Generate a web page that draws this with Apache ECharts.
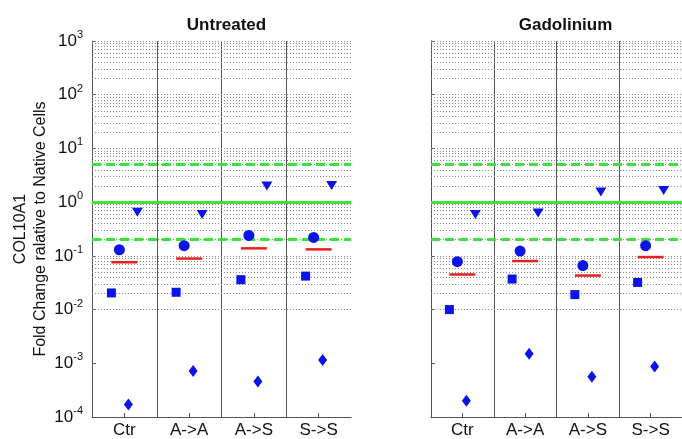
<!DOCTYPE html>
<html><head><meta charset="utf-8">
<script src="https://cdn.jsdelivr.net/npm/echarts@6/dist/echarts.min.js"></script>
<style>html,body{margin:0;padding:0;background:#fff}#c{width:682px;height:439px}</style>
</head><body><div id="c"></div>
<script>
const categories = ['Ctr', 'A->A', 'A->S', 'S->S'];
const panelTitles = ['Untreated', 'Gadolinium'];

const untreatedTriangle = [0.65, 0.59, 2.0, 2.05];
const untreatedCircle = [0.13, 0.155, 0.24, 0.22];
const untreatedMean = [0.076, 0.089, 0.138, 0.132];
const untreatedSquare = [0.0204, 0.021, 0.036, 0.042];
const untreatedDiamond = [1.7e-4, 7.2e-4, 4.6e-4, 1.15e-3];

const gadTriangle = [0.59, 0.63, 1.55, 1.64];
const gadCircle = [0.078, 0.123, 0.066, 0.155];
const gadMean = [0.045, 0.080, 0.043, 0.095];
const gadSquare = [0.0100, 0.037, 0.019, 0.032];
const gadDiamond = [2.0e-4, 1.5e-3, 5.6e-4, 8.7e-4];

const refSolid = [1];
const refDashed = [0.2, 5];

const BLUE = '#0a14e8';
const FONT = 'Liberation Sans, Arial, sans-serif';

// log grid lines (1..9 x 10^k)
const gridVals = [];
for (let k = -4; k <= 2; k++) {
  for (let m = 1; m <= 9; m++) gridVals.push(m * Math.pow(10, k));
}
gridVals.push(1000);

const panels = [
  { tri: untreatedTriangle, cir: untreatedCircle, mean: untreatedMean, sq: untreatedSquare, dia: untreatedDiamond },
  { tri: gadTriangle, cir: gadCircle, mean: gadMean, sq: gadSquare, dia: gadDiamond }
];

const grids = [
  { left: 92, top: 41, width: 259, height: 377 },
  { left: 431, top: 41, width: 259, height: 377 }
];

const catAxes = grids.map((g, i) => ({
  type: 'category', gridIndex: i, data: categories,
  boundaryGap: true,
  axisLine: { show: true, lineStyle: { color: '#555', width: 1 } },
  axisTick: { show: true, inside: true, alignWithLabel: true, length: 4, lineStyle: { color: '#555' } },
  axisLabel: { color: '#111', fontSize: 17, fontFamily: FONT, margin: 5 },
  splitLine: { show: false }
}));
// divider lines between groups (no line at the right edge)
const dividerAxes = grids.map((g, i) => ({
  type: 'value', gridIndex: i, position: 'top', min: 0, max: categories.length, interval: 1,
  axisLine: { show: false }, axisTick: { show: false }, axisLabel: { show: false },
  splitLine: { show: true, showMinLine: false, showMaxLine: false, lineStyle: { color: '#555', width: 1 } }
}));

const yAxes = grids.map((g, i) => ({
  type: 'log', logBase: 10, gridIndex: i, min: 1e-4, max: 1e3, interval: 1,
  axisLine: { show: true, lineStyle: { color: '#555', width: 1 } },
  axisTick: { show: true, inside: true, length: 4, lineStyle: { color: '#555' } },
  splitLine: { show: false },
  axisLabel: i === 0 ? {
    show: true, margin: 9,
    formatter: v => '{b|10}{e|' + Math.round(Math.log10(v)) + '}',
    rich: {
      b: { fontSize: 17, color: '#111', fontFamily: FONT },
      e: { fontSize: 11, color: '#111', fontFamily: FONT, padding: [0, 0, 12, 0] }
    }
  } : { show: false },
  name: i === 0 ? 'COL10A1\nFold Change ralative to Native Cells' : '',
  nameLocation: 'middle', nameRotate: 90, nameGap: 41,
  nameTextStyle: { fontSize: 16, color: '#111', fontFamily: FONT, lineHeight: 20 }
}));

const series = [];
panels.forEach((p, i) => {
  series.push({
    type: 'scatter', xAxisIndex: i, yAxisIndex: i, data: [], silent: true, z: 1,
    markLine: {
      silent: true, symbol: 'none', animation: false,
      label: { show: false },
      lineStyle: { color: '#8a8a8a', width: 1, type: [1, 2] },
      data: gridVals.map(v => ({ yAxis: v }))
    }
  });
  series.push({
    type: 'scatter', xAxisIndex: i, yAxisIndex: i, data: [], silent: true, z: 2,
    markLine: {
      silent: true, symbol: 'none', animation: false,
      label: { show: false },
      data: refSolid.map(v => ({ yAxis: v, lineStyle: { color: '#3ae43a', width: 3, type: 'solid' } }))
        .concat(refDashed.map(v => ({ yAxis: v, lineStyle: { color: '#3ae43a', width: 3, type: [9, 5] } })))
    }
  });
  const mk = (data, symbol, size, offset, color, extra) => Object.assign({
    type: 'scatter', xAxisIndex: i, yAxisIndex: i, data: data, symbol: symbol,
    symbolSize: size, symbolOffset: offset, itemStyle: { color: color, opacity: 1 }, z: 5, animation: false
  }, extra || {});
  series.push(mk(p.mean, 'rect', [26, 2.5], [0, 0], '#e8211e'));
  series.push(mk(p.sq, 'rect', [9, 9], [-13, 0], BLUE));
  series.push(mk(p.cir, 'circle', 11, [-5, 0], BLUE));
  series.push(mk(p.dia, 'diamond', [9, 12], [4, 0], BLUE));
  series.push(mk(p.tri, 'triangle', [11, 9], [13, 0], BLUE, { symbolRotate: 180 }));
});

const chart = echarts.init(document.getElementById('c'), null, { renderer: 'canvas' });
chart.setOption({
  backgroundColor: '#fff',
  animation: false,
  title: panelTitles.map((t, i) => ({
    text: t, left: grids[i].left + grids[i].width / 2, top: 12, textAlign: 'center',
    textStyle: { fontSize: 17, fontWeight: 'bold', color: '#111', fontFamily: FONT }
  })),
  grid: grids,
  xAxis: catAxes.concat(dividerAxes),
  yAxis: yAxes,
  series: series
});
</script></body></html>
